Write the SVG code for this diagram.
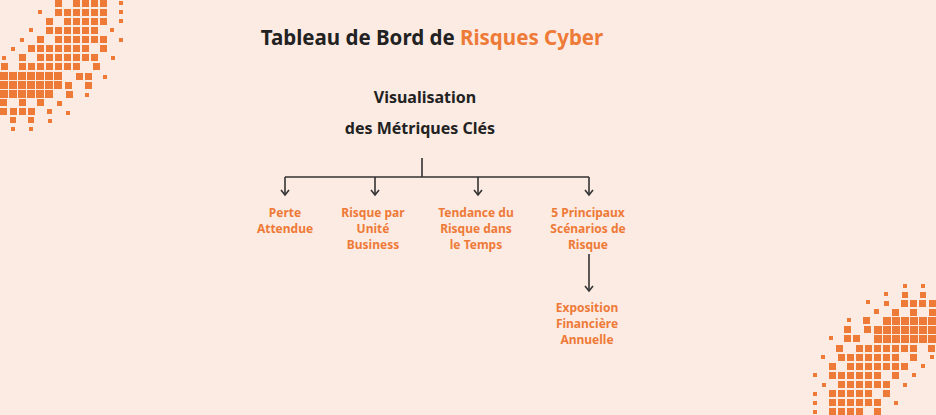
<svg xmlns="http://www.w3.org/2000/svg" width="936" height="415" viewBox="0 0 936 415">
<style>
.t{font-family:"Noto Sans","Liberation Sans",sans-serif;font-weight:700;text-anchor:middle}
.l{font-size:12px;fill:#EE7A38}
.h{font-size:16px;fill:#222}
.c{stroke:#333;stroke-width:1.6;fill:none}
.d rect{fill:#EE7A38}
</style>
<defs>
<marker id="a" viewBox="0 0 10 10" refX="8.5" refY="5" markerWidth="10" markerHeight="10" markerUnits="userSpaceOnUse" orient="auto"><path d="M3.5 1 L8.5 5 L3.5 9" fill="none" stroke="#333" stroke-width="1.6"/></marker>
<g id="pat" class="d">
<rect x="55" y="0" width="7" height="7"/><rect x="73" y="0" width="7" height="7"/><rect x="82" y="0" width="7" height="7"/><rect x="91" y="0" width="7" height="7"/><rect x="100" y="0" width="7" height="7"/><rect x="119" y="1" width="4" height="4"/>
<rect x="38" y="10" width="4" height="4"/><rect x="55" y="9" width="7" height="7"/><rect x="64" y="9" width="7" height="7"/><rect x="73" y="9" width="7" height="7"/><rect x="82" y="9" width="7" height="7"/><rect x="91" y="9" width="7" height="7"/><rect x="100" y="9" width="7" height="7"/><rect x="119" y="10" width="4" height="4"/>
<rect x="46" y="18" width="7" height="7"/><rect x="64" y="18" width="7" height="7"/><rect x="73" y="18" width="7" height="7"/><rect x="82" y="18" width="7" height="7"/><rect x="91" y="18" width="7" height="7"/><rect x="100" y="18" width="7" height="7"/><rect x="119" y="19" width="4" height="4"/>
<rect x="29" y="28" width="4" height="4"/><rect x="46" y="27" width="7" height="7"/><rect x="55" y="27" width="7" height="7"/><rect x="64" y="27" width="7" height="7"/><rect x="73" y="27" width="7" height="7"/><rect x="82" y="27" width="7" height="7"/><rect x="91" y="27" width="7" height="7"/><rect x="110" y="28" width="4" height="4"/>
<rect x="20" y="38" width="4" height="4"/><rect x="37" y="36" width="7" height="7"/><rect x="55" y="36" width="7" height="7"/><rect x="64" y="36" width="7" height="7"/><rect x="73" y="36" width="7" height="7"/><rect x="82" y="36" width="7" height="7"/><rect x="91" y="36" width="7" height="7"/><rect x="100" y="36" width="7" height="7"/><rect x="119" y="38" width="4" height="4"/>
<rect x="11" y="47" width="4" height="4"/><rect x="28" y="45" width="7" height="7"/><rect x="37" y="45" width="7" height="7"/><rect x="46" y="45" width="7" height="7"/><rect x="55" y="45" width="7" height="7"/><rect x="64" y="45" width="7" height="7"/><rect x="73" y="45" width="7" height="7"/><rect x="82" y="45" width="7" height="7"/><rect x="100" y="45" width="7" height="7"/>
<rect x="2" y="56" width="4" height="4"/><rect x="19" y="54" width="7" height="7"/><rect x="37" y="54" width="7" height="7"/><rect x="46" y="54" width="7" height="7"/><rect x="55" y="54" width="7" height="7"/><rect x="64" y="54" width="7" height="7"/><rect x="73" y="54" width="7" height="7"/><rect x="82" y="54" width="7" height="7"/><rect x="91" y="54" width="7" height="7"/><rect x="111" y="56" width="4" height="4"/>
<rect x="1" y="63" width="7" height="7"/><rect x="19" y="63" width="7" height="7"/><rect x="28" y="63" width="7" height="7"/><rect x="37" y="63" width="7" height="7"/><rect x="46" y="63" width="7" height="7"/><rect x="55" y="63" width="7" height="7"/><rect x="64" y="63" width="7" height="7"/><rect x="73" y="63" width="7" height="7"/><rect x="93" y="63" width="7" height="7"/>
<rect x="0" y="72" width="8" height="8"/><rect x="9" y="72" width="8" height="8"/><rect x="18" y="72" width="8" height="8"/><rect x="27" y="72" width="8" height="8"/><rect x="36" y="72" width="8" height="8"/><rect x="45" y="72" width="8" height="8"/><rect x="54" y="72" width="8" height="8"/><rect x="76" y="73" width="7" height="7"/><rect x="85" y="73" width="7" height="7"/><rect x="103" y="75" width="4" height="4"/>
<rect x="0" y="81" width="8" height="8"/><rect x="9" y="81" width="8" height="8"/><rect x="18" y="81" width="8" height="8"/><rect x="27" y="81" width="8" height="8"/><rect x="36" y="81" width="8" height="8"/><rect x="45" y="81" width="8" height="8"/><rect x="54" y="81" width="8" height="8"/><rect x="65" y="82" width="7" height="7"/><rect x="85" y="82" width="7" height="7"/>
<rect x="0" y="90" width="8" height="8"/><rect x="9" y="90" width="8" height="8"/><rect x="18" y="90" width="8" height="8"/><rect x="27" y="90" width="8" height="8"/><rect x="36" y="90" width="8" height="8"/><rect x="45" y="90" width="8" height="8"/><rect x="66" y="91" width="7" height="7"/><rect x="85" y="93" width="4" height="4"/>
<rect x="0" y="99" width="7" height="7"/><rect x="19" y="99" width="7" height="7"/><rect x="37" y="99" width="7" height="7"/><rect x="57" y="101" width="5" height="5"/>
<rect x="0" y="108" width="7" height="7"/><rect x="10" y="108" width="7" height="7"/><rect x="19" y="108" width="7" height="7"/><rect x="28" y="108" width="7" height="7"/><rect x="47" y="109" width="5" height="5"/><rect x="66" y="111" width="4" height="4"/>
<rect x="10" y="117" width="6" height="6"/><rect x="28" y="117" width="6" height="6"/><rect x="48" y="119" width="4" height="4"/>
<rect x="11" y="127" width="4" height="4"/><rect x="29" y="127" width="4" height="4"/>
</g>
</defs>
<rect width="936" height="415" fill="#FCEBE3"/>
<use href="#pat"/>
<use href="#pat" transform="rotate(180 468 207.5)"/>
<g id="title"><text class="t" x="432" y="45" font-size="20.5" fill="#222">Tableau de Bord de <tspan fill="#EE7A38">Risques Cyber</tspan></text></g>
<g id="root"><text class="t h" x="425" y="103">Visualisation</text><text class="t h" x="420" y="134">des Métriques Clés</text></g>
<g id="connectors">
<path class="c" d="M422 158 V177 M285 177 H589"/>
<path class="c" d="M285 177 V195" marker-end="url(#a)"/>
<path class="c" d="M375 177 V195" marker-end="url(#a)"/>
<path class="c" d="M478 177 V195" marker-end="url(#a)"/>
<path class="c" d="M589 177 V195" marker-end="url(#a)"/>
<path class="c" d="M589 254 V291" marker-end="url(#a)"/>
</g>
<g id="n1"><text class="t l" x="285" y="217">Perte</text><text class="t l" x="285" y="233">Attendue</text></g>
<g id="n2"><text class="t l" x="373" y="217">Risque par</text><text class="t l" x="373" y="233">Unité</text><text class="t l" x="373" y="249">Business</text></g>
<g id="n3"><text class="t l" x="476" y="217">Tendance du</text><text class="t l" x="476" y="233">Risque dans</text><text class="t l" x="476" y="249">le Temps</text></g>
<g id="n4"><text class="t l" x="588" y="217">5 Principaux</text><text class="t l" x="588" y="233">Scénarios de</text><text class="t l" x="588" y="249">Risque</text></g>
<g id="n5"><text class="t l" x="587" y="312">Exposition</text><text class="t l" x="587" y="328">Financière</text><text class="t l" x="587" y="344">Annuelle</text></g>
</svg>
